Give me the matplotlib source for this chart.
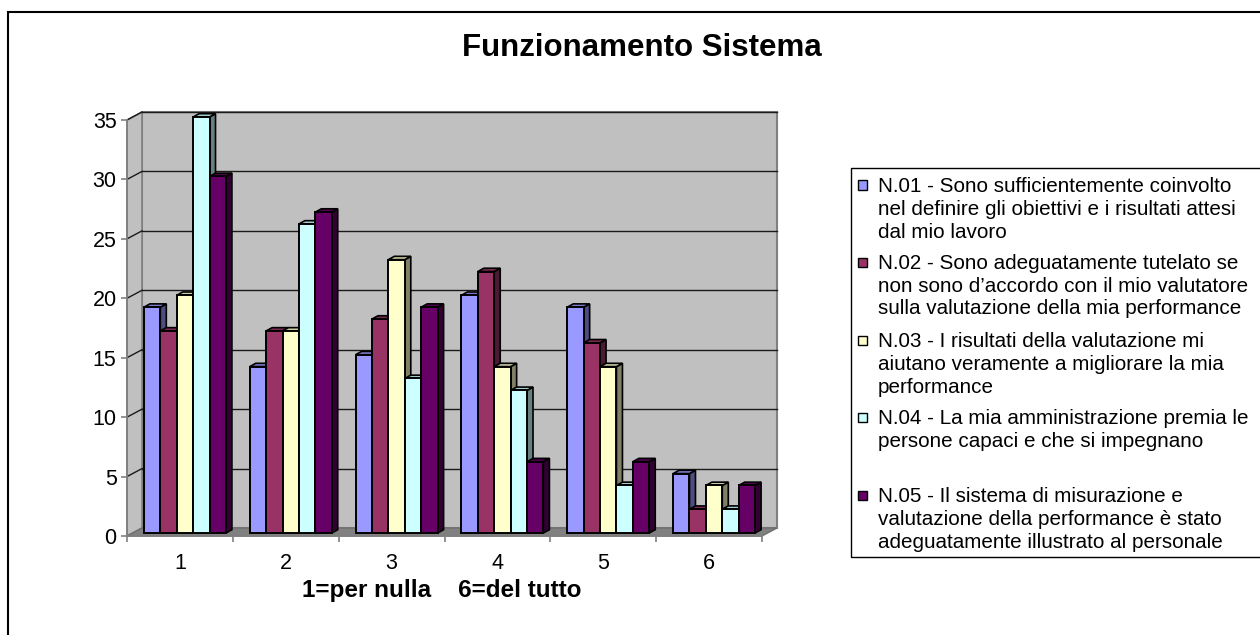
import matplotlib
matplotlib.use("Agg")
import matplotlib.pyplot as plt
from matplotlib.patches import Polygon, Rectangle
import numpy as np

plt.rcParams['font.family'] = ['Liberation Sans', 'DejaVu Sans']

# ---------------- data ----------------
categories = ["1", "2", "3", "4", "5", "6"]
series_names = [
    "N.01 - Sono sufficientemente coinvolto\nnel definire gli obiettivi e i risultati attesi\ndal mio lavoro",
    "N.02 - Sono adeguatamente tutelato se\nnon sono d\u2019accordo con il mio valutatore\nsulla valutazione della mia performance",
    "N.03 - I risultati della valutazione mi\naiutano veramente a migliorare la mia\nperformance",
    "N.04 - La mia amministrazione premia le\npersone capaci e che si impegnano\n",
    "N.05 - Il sistema di misurazione e\nvalutazione della performance \u00e8 stato\nadeguatamente illustrato al personale",
]
n01 = [19, 14, 15, 20, 19, 5]
n02 = [17, 17, 18, 22, 16, 2]
n03 = [20, 17, 23, 14, 14, 4]
n04 = [35, 26, 13, 12, 4, 2]
n05 = [30, 27, 19, 6, 6, 4]
series_values = [n01, n02, n03, n04, n05]
colors = ["#9999FF", "#993366", "#FFFFCC", "#CCFFFF", "#660066"]
title = "Funzionamento Sistema"
xlabel = "1=per nulla    6=del tutto"
yticks = [0, 5, 10, 15, 20, 25, 30, 35]

# ---------------- figure ----------------
W, H = 1260, 635
fig = plt.figure(figsize=(W / 100, H / 100), dpi=100)

# outer frame (cut by image edge at right/bottom)
fig.add_artist(Rectangle((8 / W, -0.1), 1.2, (H - 12) / H + 0.1, transform=fig.transFigure,
                         fill=False, edgecolor="black", lw=1.5))

ax_l, ax_r, ax_t, ax_b = 127, 762, 120, 536
ax = fig.add_axes([ax_l / W, 1 - ax_b / H, (ax_r - ax_l) / W, (ax_b - ax_t) / H])
ax.set_xlim(0, 6)
ax.set_ylim(0, 35)
ax.patch.set_visible(False)

pxx = 6 / (ax_r - ax_l)      # data units per px in x
pxy = 35 / (ax_b - ax_t)     # data units per px in y
wdx, wdy = 15 * pxx, 8 * pxy  # wall depth

wall_col = "#C0C0C0"
edge_gray = "#808080"
# back wall
ax.add_patch(Polygon([(wdx, wdy), (6 + wdx, wdy), (6 + wdx, 35 + wdy), (wdx, 35 + wdy)],
                     closed=True, facecolor=wall_col, edgecolor=edge_gray, lw=1.5,
                     clip_on=False, zorder=0))
# side wall
ax.add_patch(Polygon([(0, 0), (wdx, wdy), (wdx, 35 + wdy), (0, 35)],
                     closed=True, facecolor=wall_col, edgecolor=edge_gray, lw=1.2,
                     clip_on=False, zorder=0))
# floor
ax.add_patch(Polygon([(0, 0), (6, 0), (6 + wdx, wdy), (wdx, wdy)],
                     closed=True, facecolor="#808080", edgecolor="#707070", lw=1,
                     clip_on=False, zorder=0.5))
# gridlines
for v in yticks[1:]:
    ax.plot([wdx, 6 + wdx], [v + wdy, v + wdy], color="#1a1a1a", lw=1.0, zorder=0.6, clip_on=False)
    ax.plot([0, wdx], [v, v + wdy], color="#1a1a1a", lw=1.0, zorder=0.6, clip_on=False)

# bars
nser = len(series_values)
bw = 16.4 * pxx
group_w = bw * nser
bx0, by0 = 5 * pxx, 3 * pxy          # position offset of bar front face
bdx, bdy = 6 * pxx, 3.3 * pxy        # bar depth


def shade(c, f):
    r, g, b = matplotlib.colors.to_rgb(c)
    return (r * f, g * f, b * f)


z = 1
xc = np.arange(len(categories)) + 0.5
for ci in range(len(categories)):
    for si in range(nser):
        v = series_values[si][ci]
        left = xc[ci] - group_w / 2 + si * bw + bx0
        bars = ax.bar(left, v, width=bw, bottom=by0, align="edge", color=colors[si],
                      edgecolor="black", lw=1.4, zorder=z + 0.2, clip_on=False)
        rect = bars[0]
        x0, y0 = rect.get_x(), rect.get_y()
        x1, y1 = x0 + rect.get_width(), y0 + rect.get_height()
        ax.add_patch(Polygon([(x1, y0), (x1 + bdx, y0 + bdy), (x1 + bdx, y1 + bdy), (x1, y1)],
                             closed=True, facecolor=shade(colors[si], 0.5), edgecolor="black",
                             lw=1.2, zorder=z, clip_on=False))
        ax.add_patch(Polygon([(x0, y1), (x0 + bdx, y1 + bdy), (x1 + bdx, y1 + bdy), (x1, y1)],
                             closed=True, facecolor=shade(colors[si], 0.8), edgecolor="black",
                             lw=1.2, zorder=z + 0.1, clip_on=False))
        z += 1

# axes styling
for s in ["top", "right"]:
    ax.spines[s].set_visible(False)
for s in ["left", "bottom"]:
    ax.spines[s].set_color(edge_gray)
    ax.spines[s].set_linewidth(1.3)
    ax.spines[s].set_zorder(z + 1)
ax.set_yticks(yticks)
ax.set_yticklabels([str(v) for v in yticks], fontsize=15.5)
ax.set_xticks(np.arange(0, 7))
ax.set_xticklabels([])
ax.set_xticks(xc, minor=True)
ax.set_xticklabels(categories, minor=True, fontsize=15.5)
ax.tick_params(axis="y", length=4.5, width=1.2, color=edge_gray, pad=3)
ax.tick_params(axis="x", which="major", length=4.5, width=1.2, color=edge_gray)
ax.tick_params(axis="x", which="minor", length=0, pad=12)

fig.text(642 / W, 1 - 48 / H, title, ha="center", va="center", fontsize=22.5, fontweight="bold")
fig.text(442 / W, 1 - 597 / H, xlabel, ha="center", va="baseline", fontsize=17.5, fontweight="bold")

# legend (manual)
lg_l, lg_t, lg_b = 851, 168, 557
fig.add_artist(Rectangle((lg_l / W, 1 - lg_b / H), 1.0, (lg_b - lg_t) / H, transform=fig.transFigure,
                         fill=False, edgecolor="black", lw=1.0))
entry_tops = [185, 262, 340, 417, 495]
for i, name in enumerate(series_names):
    yc = entry_tops[i]
    fig.add_artist(Rectangle((858 / W, 1 - (yc + 4.5) / H), 9 / W, 9 / H, transform=fig.transFigure,
                             facecolor=colors[i], edgecolor="black", lw=1.0))
    fig.text(878 / W, 1 - (yc - 8) / H, name, ha="left", va="top", fontsize=14.9,
             linespacing=1.25)

fig.savefig("out.png", dpi=100)
